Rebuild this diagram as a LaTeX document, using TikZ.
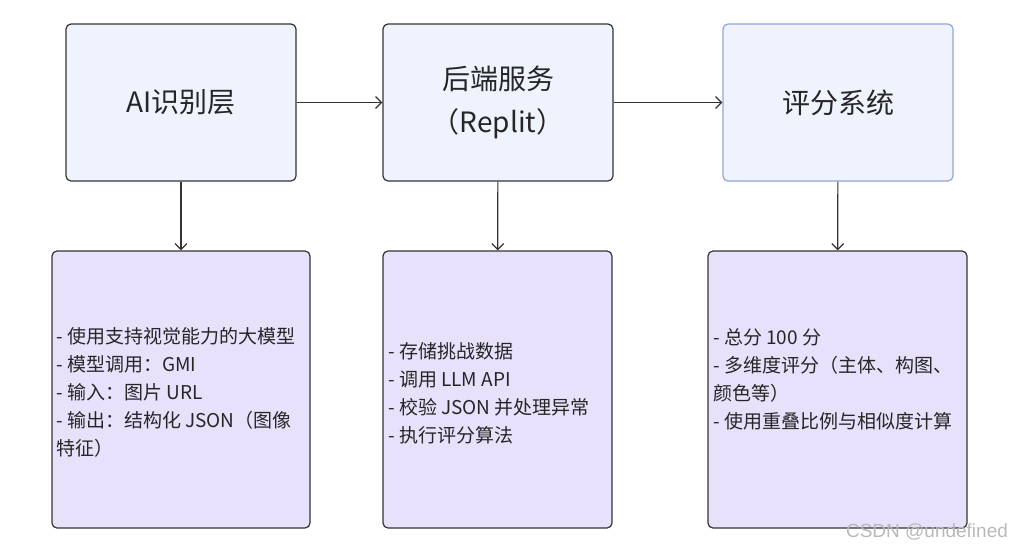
\documentclass[tikz,border=0pt]{standalone}
\usepackage{fontspec}
\setmainfont{Noto Sans CJK SC}
\newfontfamily\wmfont{Liberation Sans}
\usetikzlibrary{arrows.meta,positioning}
\definecolor{stagefill}{HTML}{EFF3FD}
\definecolor{notefill}{HTML}{E8E1FB}
\definecolor{edgegray}{HTML}{333333}
\definecolor{inkgray}{HTML}{262626}
\definecolor{selblue}{HTML}{8FA5DE}

\begin{document}
\begin{tikzpicture}[x=1pt,y=-1pt,
  stage/.style={draw=edgegray,line width=1.2pt,fill=stagefill,rounded corners=5pt,
    minimum width=230pt,minimum height=157pt,align=center,text=inkgray,
    font=\fontsize{28}{43}\selectfont},
  note/.style={draw=edgegray,line width=1.2pt,fill=notefill,rounded corners=5pt,
    minimum height=277pt},
  notetext/.style={anchor=west,align=left,inner sep=0pt,text=inkgray,
    font=\fontsize{19}{28}\selectfont},
  flow/.style={-{Straight Barb[length=6pt,width=12pt]},line width=1.2pt,draw=edgegray}]
  \useasboundingbox (0,0) rectangle (1015,550);

  % top row
  \node[stage] (ai) at (181,102.5) {AI识别层};
  \node[stage] (backend) at (498,102.5) {后端服务\\（Replit）};
  \node[stage,draw=selblue] (score) at (838,102.5) {评分系统};

  % detail boxes
  \node[note,minimum width=258pt] (aidetail) at (181,389.5) {};
  \node[note,minimum width=229pt] (backdetail) at (497.5,389.5) {};
  \node[note,minimum width=259pt] (scoredetail) at (837.5,389.5) {};

  \node[notetext] (aitext) at (56,392) {- 使用支持视觉能力的大模型\\- 模型调用：GMI\\- 输入：图片 URL\\- 输出：结构化 JSON（图像\\特征）};
  \node[notetext] (backtext) at (388,393) {- 存储挑战数据\\- 调用 LLM API\\- 校验 JSON 并处理异常\\- 执行评分算法};
  \node[notetext] (scoretext) at (713,379) {- 总分 100 分\\- 多维度评分（主体、构图、\\颜色等）\\- 使用重叠比例与相似度计算};

  % connectors
  \draw[flow] (ai) -- (backend);
  \draw[flow] (backend) -- (score);
  \draw[flow] (ai) -- (aidetail);
  \draw[flow] (backend) -- (backdetail);
  \draw[flow] (score) -- (scoredetail);

  \node[text=gray!55,font=\wmfont\fontsize{19}{19}\selectfont] (mark) at (927,532) {CSDN @undefined};
\end{tikzpicture}
\end{document}
